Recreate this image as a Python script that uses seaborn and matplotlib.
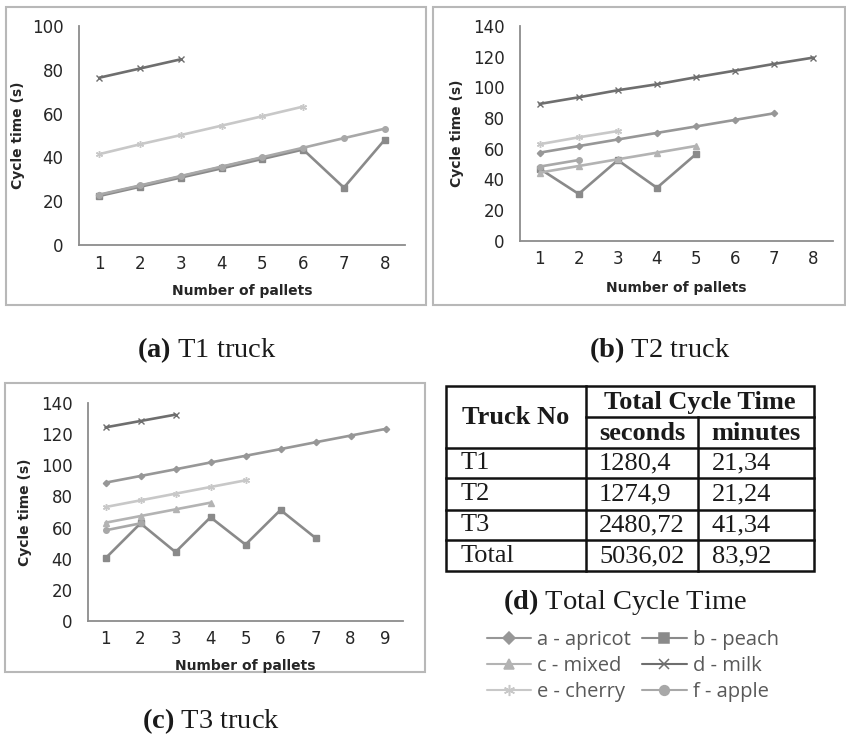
import numpy as np
import pandas as pd
import matplotlib
matplotlib.use("Agg")
import matplotlib.pyplot as plt
from matplotlib.lines import Line2D
from matplotlib.patches import Rectangle
import seaborn as sns

# values (cycle time in seconds per pallet count)
products = ["a - apricot", "b - peach", "c - mixed", "d - milk", "e - cherry", "f - apple"]

t1_apricot = [22.8, 27.0, 31.3, 35.6, 39.9]
t1_peach = [22.4, 26.6, 30.8, 35.0, 39.3, 43.6, 26.2, 48.0]
t1_milk = [76.4, 80.6, 84.8]
t1_cherry = [41.5, 46.0, 50.2, 54.5, 58.8, 63.2]
t1_apple = [23.0, 27.2, 31.5, 35.8, 40.1, 44.4, 48.8, 53.1]

t2_apricot = [57.4, 61.7, 66.0, 70.3, 74.5, 78.8, 83.1]
t2_peach = [47.0, 30.5, 52.5, 34.5, 56.5]
t2_mixed = [44.4, 48.7, 53.1, 57.4, 61.8]
t2_milk = [89.2, 93.5, 98.1, 102.0, 106.6, 110.9, 115.3, 119.4]
t2_cherry = [62.9, 67.4, 71.5]
t2_apple = [48.3, 52.6]

t3_apricot = [88.9, 93.2, 97.5, 101.9, 106.2, 110.5, 114.9, 119.2, 123.5]
t3_peach = [40.2, 62.7, 44.2, 66.6, 49.0, 71.3, 53.3]
t3_mixed = [63.1, 67.4, 71.7, 76.0]
t3_milk = [124.5, 128.6, 132.7]
t3_cherry = [73.2, 77.5, 81.8, 86.1, 90.4]
t3_apple = [58.2, 62.7]

table_trucks = ["T1", "T2", "T3", "Total"]
table_seconds = ["1280,4", "1274,9", "2480,72", "5036,02"]
table_minutes = ["21,34", "21,24", "41,34", "83,92"]

colors = {"a - apricot": "#979797", "b - peach": "#8a8a8a", "c - mixed": "#b3b3b3",
          "d - milk": "#6e6e6e", "e - cherry": "#c8c8c8", "f - apple": "#a8a8a8"}
markers = {"a - apricot": "D", "b - peach": "s", "c - mixed": "^",
           "d - milk": "x", "e - cherry": (6, 2, 0), "f - apple": "o"}
msizes = {"a - apricot": 3.2, "b - peach": 4, "c - mixed": 4.5,
          "d - milk": 4, "e - cherry": 5, "f - apple": 4}

sns.set_style("white")
plt.rcParams["font.family"] = ["DejaVu Sans"]
plt.rcParams["mathtext.fontset"] = "custom"
plt.rcParams["mathtext.rm"] = "Liberation Serif"
plt.rcParams["mathtext.bf"] = "Liberation Serif:bold"

W, H = 846, 741
fig = plt.figure(figsize=(W / 100, H / 100), dpi=100)


def long_df(series):
    rows = []
    for name, vals in series.items():
        for i, v in enumerate(vals):
            rows.append({"product": name, "pallets": i + 1, "time": v})
    return pd.DataFrame(rows)


def draw_truck(rect, series, xmax, ymax, ylab_x, xlab_y):
    ax = fig.add_axes(rect)
    ax.set_facecolor("none")
    df = long_df(series)
    for name in products:
        sub = df[df["product"] == name]
        if sub.empty:
            continue
        sns.lineplot(data=sub, x="pallets", y="time", ax=ax, color=colors[name],
                     marker=markers[name], markersize=msizes[name],
                     markeredgecolor=colors[name], markeredgewidth=1.0,
                     linewidth=1.9, errorbar=None)
    ax.set_xlim(0.5, xmax + 0.5)
    ax.set_ylim(0, ymax)
    ax.set_xticks(range(1, xmax + 1))
    ax.set_yticks(range(0, ymax + 1, 20))
    sns.despine(ax=ax)
    for s in ["left", "bottom"]:
        ax.spines[s].set_color("#8c8c8c")
        ax.spines[s].set_linewidth(1.3)
    ax.tick_params(axis="both", length=0, labelsize=12, colors="#262626")
    ax.tick_params(axis="y", pad=11)
    ax.tick_params(axis="x", pad=7)
    ax.set_xlabel("Number of pallets", fontsize=10, fontweight="bold", color="#262626")
    ax.set_ylabel("Cycle time (s)", fontsize=10, fontweight="bold", color="#262626")
    ax.yaxis.set_label_coords(ylab_x, 0.5)
    ax.xaxis.set_label_coords(0.5, xlab_y)
    return ax


def px_rect(x0, y0, x1, y1):
    return [x0 / W, 1 - y1 / H, (x1 - x0) / W, (y1 - y0) / H]


# overlay in pixel coordinates for frames, table and captions
ov = fig.add_axes([0, 0, 1, 1])
ov.set_zorder(-1)
ov.set_xlim(0, W)
ov.set_ylim(H, 0)
ov.axis("off")

for (x0, y0, x1, y1) in [(6, 7, 426, 305), (433, 7, 845, 305), (5, 383, 425, 672)]:
    ov.add_patch(Rectangle((x0, y0), x1 - x0, y1 - y0, fill=False,
                           edgecolor="#b8b8b8", linewidth=1.5))

t1 = {"a - apricot": t1_apricot, "b - peach": t1_peach, "d - milk": t1_milk,
      "e - cherry": t1_cherry, "f - apple": t1_apple}
t2 = {"a - apricot": t2_apricot, "b - peach": t2_peach, "c - mixed": t2_mixed,
      "d - milk": t2_milk, "e - cherry": t2_cherry, "f - apple": t2_apple}
t3 = {"a - apricot": t3_apricot, "b - peach": t3_peach, "c - mixed": t3_mixed,
      "d - milk": t3_milk, "e - cherry": t3_cherry, "f - apple": t3_apple}

draw_truck(px_rect(79, 26, 405, 245), t1, 8, 100, -0.166, -0.178)
draw_truck(px_rect(520, 26, 833, 240.7), t2, 8, 140, -0.179, -0.188)
draw_truck(px_rect(88, 403.3, 403, 620.7), t3, 9, 140, -0.178, -0.176)

# captions
cap = dict(family="Liberation Serif", fontsize=20.5, ha="center", va="center", color="#1a1a1a")
ov.text(207, 350, r"$\mathbf{(a)}$ T1 truck", **cap)
ov.text(660, 350, r"$\mathbf{(b)}$ T2 truck", **cap)
ov.text(211, 721, r"$\mathbf{(c)}$ T3 truck", **cap)
ov.text(625, 602, r"$\mathbf{(d)}$ Total Cycle Time", **cap)

# table
lk = dict(color="#111111", linewidth=1.8, solid_capstyle="projecting")
tx0, tx1, c1, c2 = 446, 814, 586, 698
ty0, tsub, thead, ty1 = 386, 417, 448, 571
row_lines = [478, 510, 540]
ov.add_patch(Rectangle((tx0, ty0), tx1 - tx0, ty1 - ty0, fill=False, edgecolor="#111111", linewidth=1.8))
ov.plot([c1, c1], [ty0, ty1], **lk)
ov.plot([c2, c2], [tsub, ty1], **lk)
ov.plot([c1, tx1], [tsub, tsub], **lk)
for y in [thead] + row_lines:
    ov.plot([tx0, tx1], [y, y], **lk)

tf = dict(family="Liberation Serif", fontsize=19, va="center", color="#1a1a1a")
ov.text((tx0 + c1) / 2, (ty0 + thead) / 2, "Truck No", ha="center", fontweight="bold", **tf)
ov.text((c1 + tx1) / 2, (ty0 + tsub) / 2 + 1, "Total Cycle Time", ha="center", fontweight="bold", **tf)
ov.text((c1 + c2) / 2, (tsub + thead) / 2 + 1, "seconds", ha="center", fontweight="bold", **tf)
ov.text((c2 + tx1) / 2, (tsub + thead) / 2 + 1, "minutes", ha="center", fontweight="bold", **tf)
row_y = [463, 494, 525, 556]
for y, tr, s, m in zip(row_y, table_trucks, table_seconds, table_minutes):
    ov.text(461, y, tr, ha="left", **tf)
    ov.text(599, y, s, ha="left", **tf)
    ov.text(712, y, m, ha="left", **tf)

# legend (column-major order so rows read apricot/peach, mixed/milk, cherry/apple)
order = ["a - apricot", "c - mixed", "e - cherry", "b - peach", "d - milk", "f - apple"]
handles = [Line2D([], [], color=colors[n], marker=markers[n], markersize=msizes[n] + 3,
                  markeredgecolor=colors[n], markeredgewidth=1.1, linewidth=1.5)
           for n in order]
leg = fig.legend(handles, order, ncol=2, loc="upper left",
                 bbox_to_anchor=(487 / W, 1 - 630 / H), frameon=False,
                 prop={"family": "Open Sans", "size": 14.5}, labelcolor="#595959",
                 handlelength=2.2, handletextpad=0.3, columnspacing=0.55,
                 labelspacing=0.3, borderpad=0, borderaxespad=0)

fig.savefig("out.png", dpi=100)
